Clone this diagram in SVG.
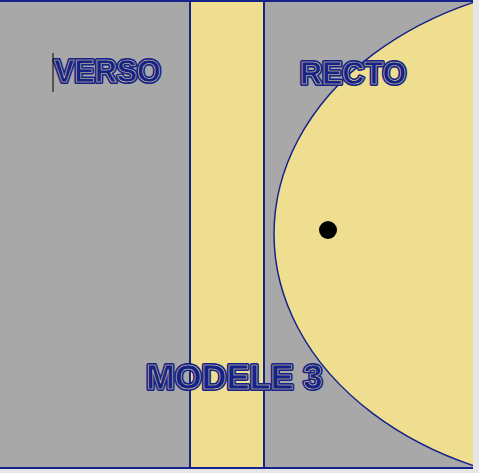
<svg xmlns="http://www.w3.org/2000/svg" width="479" height="473" viewBox="0 0 479 473">
  <defs>
    <clipPath id="page"><rect x="0" y="0" width="473" height="469"/></clipPath>
    <style>
      .lbl { font-family: "Liberation Sans", Arial, sans-serif; font-weight: bold; }
      .outer { fill: #14238a; stroke: #14238a; stroke-width: 4; stroke-linejoin: round; }
      .inner { fill: #14238a; stroke: #efdd90; stroke-width: 0.55; }
      .edge { stroke: #14238a; stroke-width: 2; fill: none; }
    </style>
  </defs>
  <rect x="0" y="0" width="479" height="473" fill="#e6e6e6"/>
  <g id="page-bg">
    <rect x="0" y="0" width="473" height="469" fill="#a8a8a8"/>
  </g>
  <g id="recto-shape" clip-path="url(#page)">
    <ellipse cx="612" cy="234" rx="338" ry="254" fill="#efdd90" stroke="#14238a" stroke-width="1.5"/>
    <circle cx="328" cy="230" r="9" fill="#000"/>
  </g>
  <g id="spine">
    <rect x="190" y="0" width="74" height="469" fill="#efdd90"/>
    <line class="edge" x1="190" y1="0" x2="190" y2="469"/>
    <line class="edge" x1="264" y1="0" x2="264" y2="469"/>
  </g>
  <g id="borders">
    <line class="edge" x1="0" y1="1" x2="473" y2="1"/>
    <line class="edge" x1="0" y1="468" x2="473" y2="468"/>
  </g>
  <g id="verso">
    <text class="lbl outer" x="54" y="82" font-size="30.5">VERSO</text>
    <text class="lbl inner" x="54" y="82" font-size="30.5">VERSO</text>
    <line x1="53" y1="53" x2="53" y2="92" stroke="#000" stroke-width="1"/>
  </g>
  <g id="recto">
    <text class="lbl outer" x="300" y="84" font-size="30.5">RECTO</text>
    <text class="lbl inner" x="300" y="84" font-size="30.5">RECTO</text>
  </g>
  <g id="modele">
    <text class="lbl outer" x="146" y="389" font-size="34.5">MODELE 3</text>
    <text class="lbl inner" x="146" y="389" font-size="34.5">MODELE 3</text>
  </g>
</svg>
